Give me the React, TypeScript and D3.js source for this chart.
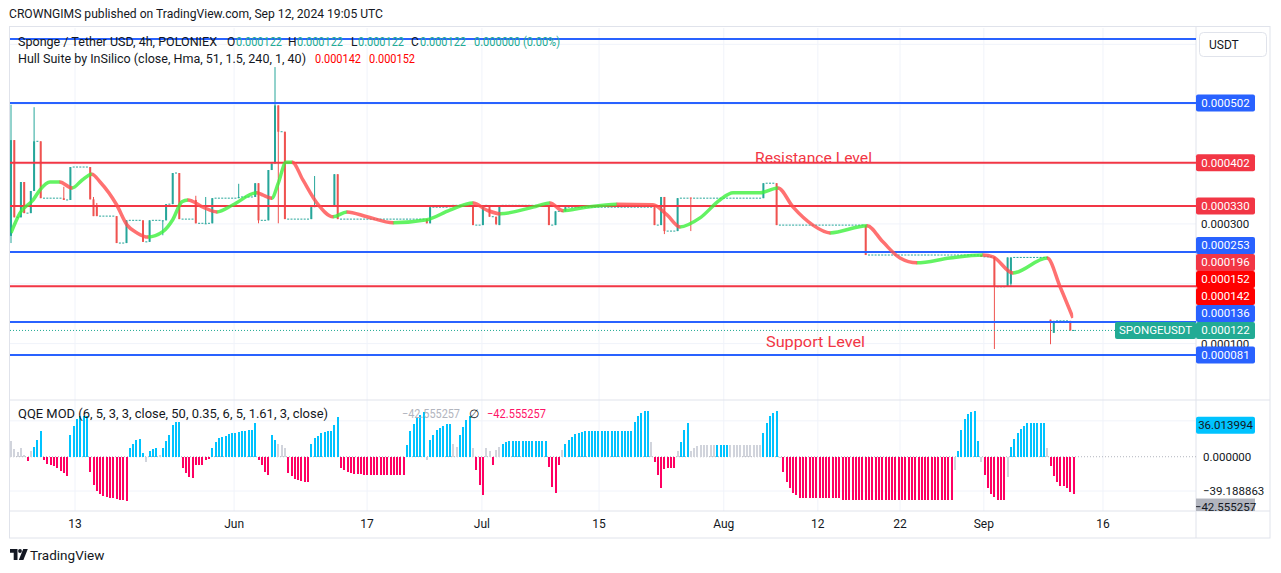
import React from 'react';
import * as d3 from 'd3';

const FONT = 'Roboto, "Liberation Sans", Arial, sans-serif';

// prices are in millionths of USDT (502 = 0.000502)
// candles that move: [bar index, open, high, low, close]; bars between them are flat dojis
const candles: number[][] = [
  [0, 280, 499, 268, 440], [1, 440, 440, 311, 311], [3, 311, 370, 311, 370], [4, 370, 370, 318, 318],
  [6, 318, 355, 318, 355], [7, 355, 495, 355, 438], [9, 438, 438, 343, 343], [16, 343, 362, 340, 340],
  [18, 340, 395, 340, 395], [24, 395, 395, 341, 341], [25, 341, 345, 313, 313], [26, 330, 335, 313, 313],
  [32, 313, 313, 268, 268], [35, 268, 306, 268, 306], [40, 306, 306, 270, 270], [42, 270, 306, 270, 306],
  [46, 306, 306, 281, 306], [47, 306, 333, 306, 333], [49, 333, 385, 333, 385], [51, 385, 385, 308, 308],
  [56, 340, 347, 301, 301], [59, 301, 345, 300, 301], [61, 301, 343, 301, 343], [69, 343, 367, 343, 345],
  [74, 345, 368, 345, 368], [75, 368, 368, 301, 306], [78, 306, 390, 306, 390], [79, 390, 401, 390, 401],
  [80, 401, 562, 401, 498], [81, 498, 498, 301, 454], [83, 454, 454, 308, 308], [91, 308, 328, 308, 328],
  [92, 328, 380, 328, 330], [98, 330, 383, 330, 383], [99, 383, 383, 308, 308], [126, 308, 308, 301, 301],
  [127, 301, 328, 301, 328], [133, 328, 331, 328, 331], [140, 331, 331, 298, 298], [143, 298, 331, 298, 331],
  [145, 331, 331, 312, 312], [147, 312, 312, 298, 300], [148, 298, 331, 298, 331], [163, 331, 331, 298, 298],
  [165, 298, 321, 298, 321], [168, 321, 328, 321, 328], [195, 328, 328, 298, 298], [197, 298, 345, 298, 345],
  [198, 345, 345, 283, 288], [202, 288, 343, 288, 343], [206, 344, 344, 288, 343], [228, 343, 368, 343, 368],
  [232, 368, 368, 298, 298], [259, 298, 298, 248, 248], [294, 248, 248, 245, 245], [298, 245, 245, 91, 195],
  [302, 195, 244, 195, 244], [303, 200, 244, 195, 244], [315, 140, 140, 99, 137], [316, 118, 138, 118, 138],
  [321, 138, 138, 122, 122],
];
const lastBar = 322;
const lastPrice = 122;

// Hull Suite line: [bar index, value]
const hull: number[][] = [
  [0, 285], [2.7, 318], [6.7, 340], [8.8, 357], [11.8, 370], [14.8, 370], [18.5, 360], [21.5, 373],
  [24.5, 383], [27, 370], [32, 332], [35.2, 298], [38.2, 285], [41.5, 278], [46, 287], [49, 307],
  [51.8, 337], [53.6, 340], [58.2, 328], [62.4, 320], [67.3, 332], [74.5, 352], [76.4, 348], [79, 343],
  [81, 368], [83.3, 403], [85.2, 403], [88.5, 373], [92.7, 335], [97.6, 312], [101.8, 320], [107.9, 312],
  [115.8, 302], [126, 307], [133, 323], [140, 335], [144.2, 323], [148.2, 317], [158.2, 328], [163.3, 335],
  [167.3, 322], [173.3, 327], [183.6, 333], [194.5, 332], [198.8, 315], [202.7, 295], [208.8, 310],
  [214.8, 340], [218.8, 352], [227, 352], [232.4, 360], [237, 328], [243, 298], [248.2, 285],
  [259.4, 297], [264.2, 270], [269.4, 243], [274.5, 235], [284.5, 243], [294.5, 248], [297.6, 245],
  [303.6, 218], [314, 243], [317.9, 195], [321.8, 143],
];

const blueLevels = [609, 502, 253, 136, 81];
const redLevels = [402, 330, 196];

const tagValues = [502, 402, 330, 253, 196, 152, 142, 136, 122, 81];
const tagKinds = ['blue', 'red', 'red', 'blue', 'red', 'hull', 'hull', 'blue', 'last', 'blue'];

// QQE MOD histogram runs, one value per bar: [colour, values]
const qqeRuns: [string, number[]][] = [
  ['g', [18, 9, 5, 10, 2]],
  ['m', [-5]],
  ['g', [7]],
  ['b', [11, 19, 29]],
  ['m', [-4, -8, -10, -11, -13, -16, -19, -22]],
  ['b', [25, 35, 43, 47, 46, 47]],
  ['m', [-17, -32, -39, -43, -45, -46, -47, -47, -48, -49, -50, -51]],
  ['b', [10, 14, 19, 20, 4]],
  ['g', [-6]],
  ['b', [6, 9, 10]],
  ['g', [2]],
  ['b', [10, 18, 25, 36, 40, 40]],
  ['m', [-13, -19, -23, -24, -9, -10, -10, -4, -3]],
  ['b', [10, 17, 21, 22, 24, 26, 27, 27, 28, 29, 29, 30, 30, 38]],
  ['m', [-4, -10, -17, -21]],
  ['b', [25, 19]],
  ['g', [15, 13, 10]],
  ['m', [-19, -22, -25, -27, -28, -29, -29]],
  ['b', [14, 21, 24, 27, 28, 29, 29, 36, 45]],
  ['m', [-13, -15, -17, -19, -20, -20, -20, -21, -21, -21, -21, -21, -21, -21, -21, -21, -21, -21, -21, -21]],
  ['b', [13, 29, 37, 44, 48, 51]],
  ['g', [-4]],
  ['b', [19, 25, 30, 33, 35, 37, 37]],
  ['g', [14, 11]],
  ['b', [25, 34, 42, 46]],
  ['g', [10]],
  ['m', [-15, -32, -44]],
  ['g', [10, 6]],
  ['m', [-9]],
  ['g', [8, 11]],
  ['b', [14, 17, 18, 18, 18, 18, 18, 18, 18, 18, 18, 18, 18, 18]],
  ['m', [-12, -35, -41, -9]],
  ['g', [8]],
  ['b', [14, 19, 23, 26, 27, 28, 29, 29, 29, 29, 29, 29, 29, 29, 29, 29, 29, 29, 29, 29, 29]],
  ['b', [40, 47, 50, 52, 52]],
  ['g', [17]],
  ['m', [-6, -21, -36, -14, -13, -13, -13]],
  ['g', [6]],
  ['b', [17, 31, 38]],
  ['g', [6, 10, 12, 13, 13, 13, 13, 13]],
  ['b', [13, 13, 13, 13]],
  ['g', [13, 13, 13, 13, 13, 13, 13, 13, 13, 13]],
  ['b', [27, 38, 46, 50, 52]],
  ['g', [-2]],
  ['m', [-17, -29, -36, -41, -44, -47, -47, -47, -47, -47, -47, -47, -47, -47, -47, -47, -47, -47]],
  ['m', [-49.5, -49.5, -49.5, -49.5, -49.5, -49.5, -49.5, -49.5, -49.5, -49.5, -49.5, -49.5, -49.5, -49.5, -49.5, -49.5, -49.5,
    -49.5, -49.5, -49.5, -49.5, -49.5, -49.5, -49.5, -49.5, -49.5, -49.5, -49.5, -49.5, -49.5, -49.5, -49.5, -49.5, -49.5]],
  ['g', [-15]],
  ['b', [7, 31, 43, 49, 51, 52, 18]],
  ['g', [-6]],
  ['m', [-21, -36, -43, -46, -50, -50, -50]],
  ['g', [-23]],
  ['b', [11, 20, 27, 32, 35, 38, 38, 38, 38, 38, 38]],
  ['g', [10]],
  ['m', [-11, -22, -29, -33, -33, -36, -40, -42.555257]],
];
const qqeGridValues = [41, 0, -39.188863];
const qqeGridLabels = ['', '0.000000', '\u221239.188863'];
const qqeUpTag = 36.013994;
const qqeLastTag = -42.555257;

const tickLabels = ['13', 'Jun', '17', 'Jul', '15', 'Aug', '12', '22', 'Sep', '16'];
const tickBars = [19.4, 67.6, 107.9, 142.7, 178.2, 216, 244.5, 269.4, 294.8, 330.9];

const C = {
  text: '#131722', grid: '#f0f3fa', border: '#e0e3eb', blue: '#2962ff', red: '#f23645',
  hullTag: '#ff0000', teal: '#22ab94', candleUp: '#26a69a', candleDown: '#ef5350',
  hullUp: '#3cf03c', hullDown: '#ff4d4d', qb: '#00c3ff', qm: '#ff0062', qg: '#d1d4dc',
};
const tagColor: Record<string, string> = { blue: C.blue, red: C.red, hull: C.hullTag, last: C.teal };
const qqeColor: Record<string, string> = { b: C.qb, m: C.qm, g: C.qg };

const L = 10, R = 1196, PT = 28, PB = 400, QB = 511, TB = 538;

export default function App() {
  const xs = d3.scaleLinear().domain([0, lastBar]).range([11, 1073.6]);
  const yP = d3.scaleLinear().domain([5.8, 627.3]).range([PB, PT]);
  const yQ = d3.scaleLinear().domain([-62, 64.8]).range([QB, PB]);
  const step = xs(1) - xs(0);
  const fmt = (v: number) => (v * 1e-6).toFixed(6);

  // flat doji stretches between moving candles
  const flats = candles.map((c, k) => {
    const from = c[0];
    const to = k + 1 < candles.length ? candles[k + 1][0] : lastBar + 1;
    return { from, to, price: c[4] };
  }).filter((f) => f.to - f.from > 1);

  // hull path, coloured by direction
  const hullLine = d3.line<number[]>().x((d) => xs(d[0])).y((d) => yP(d[1])).curve(d3.curveMonotoneX);
  const hullPath = hullLine(hull) || '';
  const segs = d3.pairs(hull).map(([a, b]) => ({ x0: xs(a[0]), x1: xs(b[0]), up: b[1] >= a[1] }));

  // axis tags, pushed apart from the bottom up
  const order = d3.range(tagValues.length).sort((a, b) => tagValues[a] - tagValues[b]);
  const tagY: number[] = [];
  let prev = Infinity;
  order.forEach((i) => {
    const y = Math.min(yP(tagValues[i]), prev - 17);
    tagY[i] = y;
    prev = y;
  });
  const lastTagY = tagY[tagValues.indexOf(lastPrice)];

  // grid labels that the tags do not cover
  const gridTicks = yP.ticks(6);
  const freeTicks = gridTicks.filter((t) => yP(t) > 60 && tagY.every((ty) => Math.abs(ty - yP(t)) > 9));

  const qqe = qqeRuns.flatMap(([c, vals]) => vals.map((v) => ({ c, v })));
  const qqeLastY = Math.max(yQ(qqeLastTag), yQ(-39.188863) + 16);

  return (
    <svg width={1281} height={573} style={{ position: 'absolute', left: 0, top: 0, background: '#fff' }}
      fontFamily={FONT}>
      <defs>
        <clipPath id="price"><rect x={L} y={PT} width={R - L} height={PB - PT} /></clipPath>
        <clipPath id="qqe"><rect x={L} y={PB} width={R - L} height={QB - PB} /></clipPath>
        <clipPath id="axisQ"><rect x={R} y={PB} width={74} height={QB - PB} /></clipPath>
        <clipPath id="hullUp">
          {segs.filter((s) => s.up).map((s, i) => <rect key={i} x={s.x0 - 0.3} y={0} width={s.x1 - s.x0 + 0.6} height={573} />)}
        </clipPath>
        <clipPath id="hullDown">
          {segs.filter((s) => !s.up).map((s, i) => <rect key={i} x={s.x0 - 0.3} y={0} width={s.x1 - s.x0 + 0.6} height={573} />)}
        </clipPath>
      </defs>

      <text x={9} y={18} fontSize={12} fill={C.text} textLength={374} lengthAdjust="spacingAndGlyphs">
        CROWNGIMS published on TradingView.com, Sep 12, 2024 19:05 UTC
      </text>

      {/* frame and grid */}
      <rect x={L - 0.5} y={PT - 1.5} width={1270 - L + 0.5} height={TB - PT + 1.5} fill="none" stroke={C.border} />
      {gridTicks.map((t) => (
        <line key={t} x1={L} x2={R} y1={yP(t)} y2={yP(t)} stroke={C.grid} />
      ))}
      {qqeGridValues.filter((v) => v !== 0).map((v) => (
        <line key={v} x1={L} x2={R} y1={yQ(v)} y2={yQ(v)} stroke={C.grid} />
      ))}
      {tickBars.map((b, i) => (
        <line key={i} x1={xs(b)} x2={xs(b)} y1={PT} y2={QB} stroke={C.grid} />
      ))}
      <line x1={L} x2={1270} y1={PB} y2={PB} stroke={C.border} />
      <line x1={L} x2={1270} y1={QB} y2={QB} stroke={C.border} />
      <line x1={R} x2={R} y1={PT - 1} y2={TB} stroke={C.border} />

      {/* price pane */}
      <g clipPath="url(#price)">
        {flats.map((f, i) => (
          <line key={i} x1={xs(f.from + 1) - 1} x2={xs(f.to - 1) + 1} y1={yP(f.price)} y2={yP(f.price)}
            stroke={C.candleUp} strokeWidth={1} strokeDasharray={`2 ${step - 2}`} />
        ))}
        {candles.map(([i, o, h, l, c]) => {
          const col = c >= o ? C.candleUp : C.candleDown;
          return (
            <g key={i}>
              <line x1={xs(i)} x2={xs(i)} y1={yP(h)} y2={yP(l)} stroke={col} strokeWidth={1} />
              <rect x={xs(i) - 1} width={2} y={Math.min(yP(o), yP(c))} height={Math.max(1, Math.abs(yP(o) - yP(c)))} fill={col} />
            </g>
          );
        })}
        <line x1={L} x2={1115} y1={yP(lastPrice)} y2={yP(lastPrice)} stroke={C.teal} strokeDasharray="1 2" />
        {blueLevels.map((v) => (
          <line key={v} x1={L} x2={R} y1={yP(v)} y2={yP(v)} stroke={C.blue} strokeWidth={2} />
        ))}
        {redLevels.map((v) => (
          <line key={v} x1={L} x2={R} y1={yP(v)} y2={yP(v)} stroke={C.red} strokeWidth={2} />
        ))}
        <path d={hullPath} fill="none" stroke={C.hullUp} strokeWidth={3.5} opacity={0.8} clipPath="url(#hullUp)" />
        <path d={hullPath} fill="none" stroke={C.hullDown} strokeWidth={3.5} opacity={0.8} clipPath="url(#hullDown)" />
        <text x={755} y={158} dy="0.35em" fontSize={15.5} fill={C.red} textLength={117} lengthAdjust="spacingAndGlyphs">Resistance Level</text>
        <text x={766} y={342} dy="0.35em" fontSize={15.5} fill={C.red} textLength={99} lengthAdjust="spacingAndGlyphs">Support Level</text>
      </g>

      {/* legends */}
      <text y={42} dy="0.35em" fontSize={12} fill={C.text}>
        <tspan x={18} textLength={199} lengthAdjust="spacingAndGlyphs">Sponge / Tether USD, 4h, POLONIEX</tspan>
        <tspan x={227}>O</tspan><tspan x={236} fill={C.teal} textLength={46} lengthAdjust="spacingAndGlyphs">0.000122</tspan>
        <tspan x={288}>H</tspan><tspan x={297} fill={C.teal} textLength={46} lengthAdjust="spacingAndGlyphs">0.000122</tspan>
        <tspan x={351}>L</tspan><tspan x={358} fill={C.teal} textLength={46} lengthAdjust="spacingAndGlyphs">0.000122</tspan>
        <tspan x={411}>C</tspan><tspan x={420} fill={C.teal} textLength={46} lengthAdjust="spacingAndGlyphs">0.000122</tspan>
        <tspan x={474} fill={C.teal} textLength={86} lengthAdjust="spacingAndGlyphs">0.000000 (0.00%)</tspan>
      </text>
      <text y={59} dy="0.35em" fontSize={12} fill={C.text}>
        <tspan x={18} textLength={288} lengthAdjust="spacingAndGlyphs">Hull Suite by InSilico (close, Hma, 51, 1.5, 240, 1, 40)</tspan>
        <tspan x={315} fill={C.hullTag} textLength={46} lengthAdjust="spacingAndGlyphs">0.000142</tspan>
        <tspan x={369} fill={C.hullTag} textLength={46} lengthAdjust="spacingAndGlyphs">0.000152</tspan>
      </text>

      {/* QQE pane */}
      <g clipPath="url(#qqe)">
        <line x1={L} x2={R} y1={yQ(0)} y2={yQ(0)} stroke="#b2b5be" strokeDasharray="1 2" />
        {qqe.map((d, i) => (
          <rect key={i} x={xs(i) - 1} width={2} y={Math.min(yQ(0), yQ(d.v))} height={Math.abs(yQ(d.v) - yQ(0))}
            fill={qqeColor[d.c]} shapeRendering="crispEdges" />
        ))}
      </g>
      <text y={414} dy="0.35em" fontSize={12} fill={C.text}>
        <tspan x={18} textLength={310} lengthAdjust="spacingAndGlyphs">QQE MOD (6, 5, 3, 3, close, 50, 0.35, 6, 5, 1.61, 3, close)</tspan>
        <tspan x={402} fill="#b2b5be" textLength={58} lengthAdjust="spacingAndGlyphs">{'\u2212'}42.555257</tspan>
        <tspan x={469} fill={C.text}>{'\u2205'}</tspan>
        <tspan x={487} fill="#ff1467" textLength={59} lengthAdjust="spacingAndGlyphs">{'\u2212'}42.555257</tspan>
      </text>

      {/* price axis */}
      {freeTicks.map((t) => (
        <text key={t} x={1201} y={yP(t)} dy="0.35em" fontSize={11.5} fill={C.text}>{fmt(t)}</text>
      ))}
      {tagValues.map((v, i) => (
        <g key={v}>
          <rect x={R} y={tagY[i] - 8.5} width={59} height={17} rx={2} fill={tagColor[tagKinds[i]]} />
          <text x={R + 29.5} y={tagY[i]} dy="0.35em" fontSize={11.5} fill="#fff" textAnchor="middle">{fmt(v)}</text>
        </g>
      ))}
      <rect x={1115} y={lastTagY - 8.5} width={R - 1115} height={17} rx={2} fill={C.teal} />
      <text x={(1115 + R) / 2} y={lastTagY} dy="0.35em" fontSize={11.5} fill="#fff" textAnchor="middle">SPONGEUSDT</text>
      <rect x={1199.5} y={32.5} width={67} height={24} rx={4} fill="#fff" stroke={C.border} />
      <text x={1209} y={44.5} dy="0.35em" fontSize={12} fill={C.text}>USDT</text>

      {/* QQE axis */}
      {qqeGridValues.map((v, i) => qqeGridLabels[i] ? (
        <text key={v} x={1203} y={yQ(v)} dy="0.35em" fontSize={11.5} fill={C.text}>{qqeGridLabels[i]}</text>
      ) : null)}
      <rect x={R} y={yQ(qqeUpTag) - 8.5} width={59} height={17} rx={2} fill={C.qb} />
      <text x={R + 29.5} y={yQ(qqeUpTag)} dy="0.35em" fontSize={11.5} fill={C.text} textAnchor="middle">{qqeUpTag.toFixed(6)}</text>
      <g clipPath="url(#axisQ)">
        <rect x={R} y={qqeLastY - 8.5} width={59} height={17} fill="#b2b5be" />
        <text x={R + 29.5} y={qqeLastY} dy="0.35em" fontSize={11.5} fill={C.text} textAnchor="middle">
          {'\u2212'}{Math.abs(qqeLastTag).toFixed(6)}
        </text>
      </g>

      {/* time axis */}
      {tickLabels.map((t, i) => (
        <text key={t + i} x={xs(tickBars[i])} y={524} dy="0.35em" fontSize={12} fill={C.text} textAnchor="middle">{t}</text>
      ))}

      {/* footer */}
      <g fill={C.text}>
        <path d="M10 549 h7.5 v11 h-3.8 v-7.2 h-3.7 z" />
        <circle cx={20} cy={551} r={1.9} />
        <path d="M23.2 549 h4.6 l-4.4 11 h-4.6 z" />
      </g>
      <text x={30} y={555} dy="0.35em" fontSize={13.5} fill={C.text}>TradingView</text>
    </svg>
  );
}
